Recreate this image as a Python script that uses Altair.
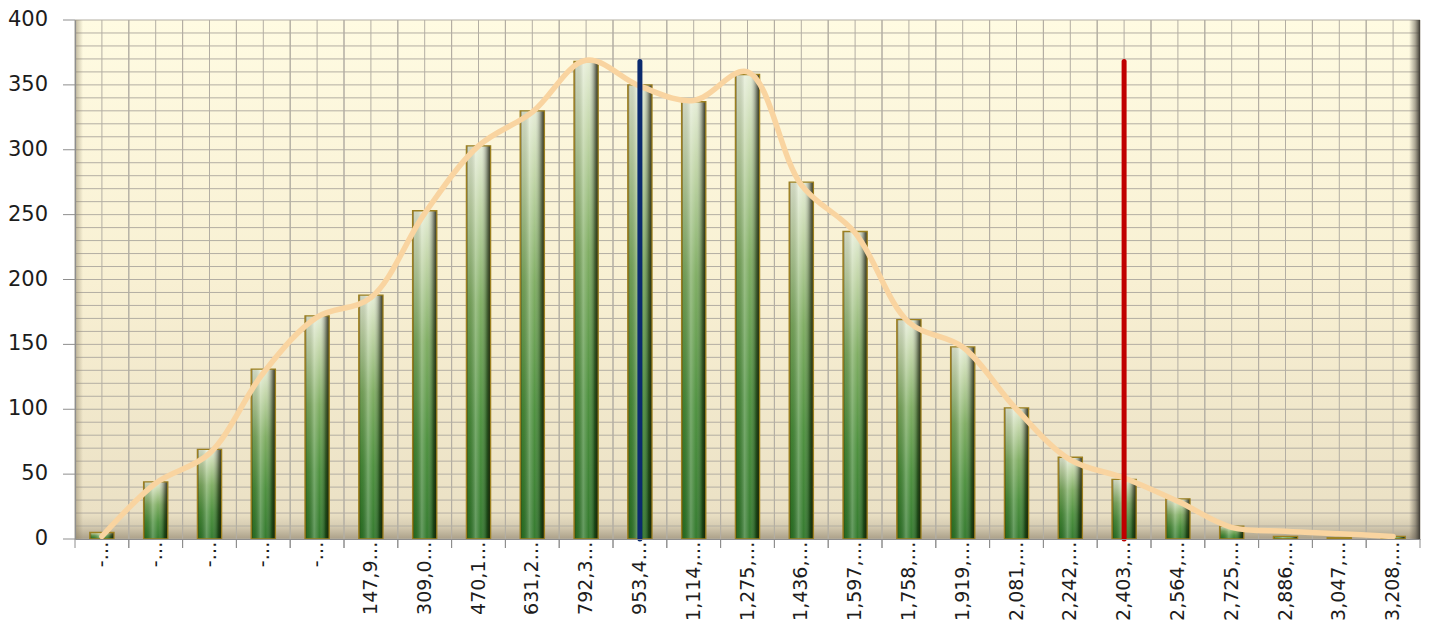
import json

import altair as alt
import pandas as pd

# Bin labels as printed under each column (truncated in the source sheet)
bin_labels = [
    "-…", "-…", "-…", "-…", "-…",
    "147,9…", "309,0…", "470,1…", "631,2…", "792,3…",
    "953,4…", "1,114,…", "1,275,…", "1,436,…", "1,597,…",
    "1,758,…", "1,919,…", "2,081,…", "2,242,…", "2,403,…",
    "2,564,…", "2,725,…", "2,886,…", "3,047,…", "3,208,…",
]

# Frequency per bin
counts = [5, 44, 69, 131, 172, 188, 253, 303, 330, 368, 350, 337, 358,
          275, 237, 169, 148, 101, 63, 46, 31, 10, 2, 1, 2]

# Smoothed frequency curve drawn over the columns
trend = [2, 43, 66, 128, 171, 186, 251, 303, 329, 369, 349, 338, 360,
         273, 236, 167, 148, 100, 61, 47, 29, 9, 6, 4, 2]

# Vertical markers (mean and limit)
marker_bins = [10, 19]
marker_tops = [368, 368]
marker_colors = ["#0b2a6e", "#c00000"]

# Y axis: grid every 10, labels every 50
y_grid = list(range(0, 401, 10))
y_labels = list(range(0, 401, 50))

W, H = 1345, 519
GRID = "#b3aea3"
AXIS = "#8e8e8e"
TEXT = "#1c1c1c"

df = pd.DataFrame({"bin": list(range(len(bin_labels))), "count": counts, "trend": trend})
mk = pd.DataFrame({"bin": marker_bins, "top": marker_tops, "color": marker_colors})
grid_df = pd.DataFrame({"v": y_grid})
ylab_df = pd.DataFrame({"v": y_labels, "txt": [str(v) for v in y_labels]})

x_scale = alt.Scale(domain=list(range(len(bin_labels))), paddingInner=0, paddingOuter=0)
# tick marks are their own layer; the transparent axis ticks only set the label offset
x_axis = alt.Axis(
    grid=False, ticks=True, tickSize=2, tickColor="transparent",
    domainColor=AXIS, domainWidth=1.2,
    labelAngle=270, labelAlign="right", labelBaseline="middle", labelPadding=0,
    labelExpr=json.dumps(bin_labels, ensure_ascii=False) + "[datum.value]",
    labelFont="DejaVu Sans", labelFontSize=19, labelColor=TEXT,
    labelOverlap=False, title=None, zindex=2,
)
y_scale = alt.Scale(domain=[0, 400], nice=False, zero=True)
# the y value labels are a text layer
y_axis = alt.Axis(
    values=y_labels, grid=False, ticks=False, labels=False,
    domainColor=AXIS, domainWidth=1.2, title=None, zindex=2,
)

X = alt.X("bin:O", scale=x_scale, axis=x_axis, title=None)


def X_edge(pos):
    return alt.X("bin:O", scale=x_scale, axis=x_axis, title=None, bandPosition=pos)


def Y(field):
    return alt.Y(field, scale=y_scale, axis=y_axis, title=None)


def vgrad(stops):
    return alt.Gradient(gradient="linear", x1=0, x2=0, y1=0, y2=1,
                        stops=[alt.GradientStop(offset=o, color=c) for o, c in stops])


def hgrad(stops):
    return alt.Gradient(gradient="linear", x1=0, x2=1, y1=0, y2=0,
                        stops=[alt.GradientStop(offset=o, color=c) for o, c in stops])


frame = pd.DataFrame({"k": [0]})

# plot-area wall: cream at the top, darker floor strip at the bottom
wall = alt.Chart(frame).mark_rect(
    fill=vgrad([
        (0, "#fffbe2"), (0.5, "#f8f0d3"), (0.95, "#ebe1c5"),
        (0.975, "#d6ccb2"), (1, "#aba089"),
    ])
).encode(x=alt.value(0), x2=alt.value(W), y=alt.value(0), y2=alt.value(H))

# grid: horizontal every 10, vertical at bin edges and bin centres
h_grid = alt.Chart(grid_df).mark_rule(color=GRID, strokeWidth=1).encode(y=Y("v:Q"))
edge_grid_a = alt.Chart(df).mark_rule(color=GRID, strokeWidth=1).encode(x=X_edge(0))
edge_grid_b = alt.Chart(df).mark_rule(color=GRID, strokeWidth=1).encode(x=X_edge(1))
center_grid = alt.Chart(df).mark_rule(color=GRID, strokeWidth=1).encode(x=X)

# axis tick marks: bin edges below the x axis, every 50 left of the y axis
x_ticks_a = alt.Chart(df).mark_rule(color=AXIS, strokeWidth=1).encode(
    x=X_edge(0), y=alt.value(H), y2=alt.value(H + 9))
x_ticks_b = alt.Chart(df).mark_rule(color=AXIS, strokeWidth=1).encode(
    x=X_edge(1), y=alt.value(H), y2=alt.value(H + 9))
y_ticks = alt.Chart(ylab_df).mark_rule(color=AXIS, strokeWidth=1).encode(
    y=Y("v:Q"), x=alt.value(-12), x2=alt.value(0))
y_text = alt.Chart(ylab_df).mark_text(
    align="right", baseline="middle", font="DejaVu Sans", fontSize=21, color=TEXT
).encode(y=Y("v:Q"), x=alt.value(-27), text="txt:N")

left_shade = alt.Chart(frame).mark_rect(
    fill=hgrad([(0, "rgba(140,128,100,0.55)"), (1, "rgba(140,128,100,0)")])
).encode(x=alt.value(0), x2=alt.value(8), y=alt.value(0), y2=alt.value(H))
right_shade = alt.Chart(frame).mark_rect(
    fill=hgrad([(0, "rgba(90,85,75,0)"), (0.55, "rgba(90,85,75,0.5)"), (1, "rgba(60,57,50,1)")])
).encode(x=alt.value(W - 11), x2=alt.value(W), y=alt.value(0), y2=alt.value(H))

bar_w = alt.RelativeBandSize(0.45)

# cylinder-like columns: vertical green ramp plus a horizontal highlight/shadow pass
bars_base = alt.Chart(df).mark_bar(
    width=bar_w,
    fill=vgrad([(0, "#e4ecd4"), (0.15, "#bfd4a4"), (0.4, "#7aaa5c"),
                (0.7, "#468c36"), (1, "#2a7424")]),
).encode(x=X, y=Y("count:Q"))

bars_shade = alt.Chart(df).mark_bar(
    width=bar_w,
    fill=hgrad([
        (0, "rgba(160,95,10,0.85)"), (0.08, "rgba(0,0,0,0.08)"),
        (0.38, "rgba(255,255,255,0.28)"), (0.6, "rgba(255,255,255,0.05)"),
        (0.85, "rgba(0,0,0,0.38)"), (1, "rgba(25,25,0,0.88)"),
    ]),
    stroke="#9c8020", strokeWidth=1.3,
).encode(x=X, y=Y("count:Q"))

curve = alt.Chart(df).mark_line(
    color="#f9d4a0", strokeWidth=5.5, interpolate="catmull-rom",
    strokeCap="round", strokeJoin="round",
).encode(x=X, y=Y("trend:Q"))

markers = alt.Chart(mk).mark_rule(strokeWidth=5, strokeCap="round").encode(
    x=X, y=Y("top:Q"), y2=alt.datum(0), color=alt.Color("color:N", scale=None)
)

chart = (
    alt.layer(wall, h_grid, edge_grid_a, edge_grid_b, center_grid,
              left_shade, right_shade, bars_base, bars_shade, curve, markers,
              x_ticks_a, x_ticks_b, y_ticks, y_text)
    .properties(
        width=W, height=H,
        autosize=alt.AutoSizeParams(type="none"),
        padding={"left": 75, "top": 20, "right": 9, "bottom": 85},
        background="white",
    )
    .configure_view(stroke=None)
)

chart.save("out.html", embed_options={"renderer": "svg", "actions": False})
